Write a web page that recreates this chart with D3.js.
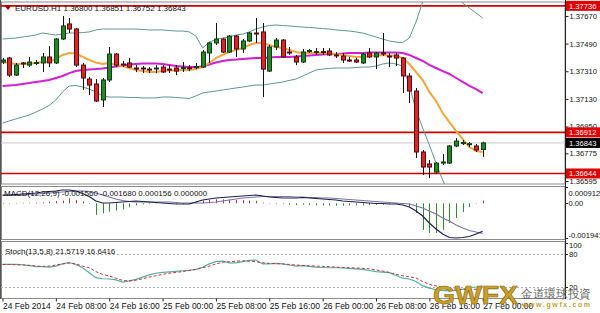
<!DOCTYPE html>
<html><head><meta charset="utf-8">
<script src="https://cdn.jsdelivr.net/npm/d3@7"></script>
<style>
body{margin:0;background:#fff}
svg{display:block}
text{font-family:"Liberation Sans",Arial,sans-serif}
</style>
</head><body>
<svg id="c" width="600" height="313"></svg>
<script>
// ---------- DATA ----------
const startTime = "2014-02-24T00:00:00";
const open = [1.37370,1.37396,1.37285,1.37364,1.37350,1.37364,1.37364,1.37403,1.37364,1.37520,
1.37618,1.37585,1.37350,1.37259,1.37227,1.37123,1.37253,1.37422,1.37357,1.37364,
1.37331,1.37331,1.37324,1.37327,1.37337,1.37324,1.37331,1.37331,1.37333,1.37337,
1.37337,1.37429,1.37494,1.37520,1.37435,1.37539,1.37455,1.37507,1.37559,1.37566,
1.37311,1.37468,1.37513,1.37435,1.37403,1.37370,1.37442,1.37435,1.37438,1.37442,
1.37416,1.37409,1.37383,1.37383,1.37364,1.37429,1.37403,1.37429,1.37409,1.37416,
1.37396,1.37279,1.37181,1.36784,1.36706,1.36653,1.36712,1.36712,1.36823,1.36842,
1.36836,1.36823,1.36800];
const high = [1.37396,1.37403,1.37364,1.37370,1.37403,1.37383,1.37429,1.37474,1.37526,1.37670,
1.37657,1.37592,1.37364,1.37272,1.37259,1.37266,1.37468,1.37429,1.37377,1.37396,
1.37350,1.37344,1.37337,1.37350,1.37350,1.37350,1.37350,1.37370,1.37350,1.37364,
1.37448,1.37500,1.37624,1.37526,1.37546,1.37546,1.37520,1.37566,1.37657,1.37624,
1.37481,1.37526,1.37520,1.37468,1.37416,1.37455,1.37455,1.37461,1.37461,1.37461,
1.37435,1.37429,1.37403,1.37396,1.37429,1.37461,1.37435,1.37559,1.37429,1.37429,
1.37403,1.37298,1.37201,1.36797,1.36732,1.36719,1.36771,1.36829,1.36875,1.36862,
1.36849,1.36836,1.36851];
const low = [1.37357,1.37272,1.37279,1.37331,1.37337,1.37350,1.37305,1.37337,1.37357,1.37513,
1.37559,1.37337,1.37188,1.37155,1.37109,1.37077,1.37240,1.37337,1.37337,1.37331,
1.37305,1.37298,1.37298,1.37298,1.37298,1.37298,1.37285,1.37305,1.37311,1.37324,
1.37331,1.37364,1.37481,1.37429,1.37429,1.37403,1.37429,1.37500,1.37494,1.37142,
1.37305,1.37448,1.37396,1.37416,1.37350,1.37364,1.37429,1.37416,1.37416,1.37409,
1.37396,1.37364,1.37370,1.37364,1.37357,1.37396,1.37324,1.37409,1.37337,1.37344,
1.37168,1.37103,1.36745,1.36634,1.36614,1.36647,1.36699,1.36706,1.36816,1.36829,
1.36816,1.36784,1.36752];
const close = [1.37383,1.37285,1.37350,1.37360,1.37370,1.37367,1.37403,1.37364,1.37520,1.37605,
1.37585,1.37350,1.37266,1.37220,1.37116,1.37253,1.37422,1.37350,1.37350,1.37337,
1.37327,1.37325,1.37322,1.37331,1.37305,1.37318,1.37311,1.37334,1.37330,1.37340,
1.37435,1.37494,1.37520,1.37435,1.37539,1.37455,1.37507,1.37559,1.37556,1.37324,
1.37468,1.37513,1.37403,1.37432,1.37370,1.37435,1.37445,1.37438,1.37435,1.37416,
1.37413,1.37383,1.37380,1.37370,1.37422,1.37403,1.37429,1.37425,1.37406,1.37396,
1.37279,1.37181,1.36784,1.36686,1.36686,1.36712,1.36719,1.36823,1.36855,1.36845,
1.36838,1.36797,1.36843];

const maFast = [1.37370,1.37364,1.37357,1.37357,1.37360,1.37364,1.37370,1.37370,1.37390,1.37416,
1.37429,1.37425,1.37403,1.37383,1.37367,1.37357,1.37364,1.37351,1.37344,1.37331,
1.37318,1.37311,1.37305,1.37305,1.37311,1.37315,1.37315,1.37318,1.37318,1.37324,
1.37337,1.37364,1.37396,1.37416,1.37435,1.37448,1.37461,1.37481,1.37494,1.37494,
1.37481,1.37468,1.37461,1.37448,1.37435,1.37429,1.37429,1.37429,1.37429,1.37425,
1.37422,1.37416,1.37409,1.37403,1.37403,1.37409,1.37412,1.37416,1.37412,1.37409,
1.37396,1.37357,1.37305,1.37253,1.37175,1.37116,1.37038,1.36979,1.36921,1.36868,
1.36816,1.36790,1.36784];
const maSlow = [1.37214,1.37217,1.37220,1.37227,1.37233,1.37240,1.37246,1.37253,1.37266,1.37279,
1.37298,1.37311,1.37318,1.37321,1.37324,1.37328,1.37334,1.37341,1.37347,1.37354,
1.37357,1.37360,1.37360,1.37360,1.37357,1.37351,1.37344,1.37341,1.37337,1.37337,
1.37341,1.37354,1.37367,1.37377,1.37383,1.37386,1.37390,1.37393,1.37396,1.37396,
1.37399,1.37403,1.37403,1.37403,1.37406,1.37409,1.37412,1.37416,1.37419,1.37422,
1.37422,1.37425,1.37429,1.37429,1.37429,1.37432,1.37432,1.37432,1.37432,1.37432,
1.37429,1.37416,1.37396,1.37377,1.37351,1.37331,1.37311,1.37292,1.37266,1.37240,
1.37214,1.37194,1.37168];
const bbUpper = [1.37520,1.37523,1.37526,1.37533,1.37539,1.37546,1.37559,1.37552,1.37546,1.37552,
1.37559,1.37559,1.37562,1.37566,1.37579,1.37585,1.37585,1.37585,1.37585,1.37585,
1.37585,1.37582,1.37579,1.37579,1.37579,1.37575,1.37572,1.37572,1.37566,1.37539,
1.37461,1.37500,1.37517,1.37526,1.37533,1.37546,1.37552,1.37566,1.37585,1.37598,
1.37608,1.37611,1.37608,1.37605,1.37601,1.37598,1.37595,1.37592,1.37588,1.37585,
1.37579,1.37575,1.37572,1.37566,1.37559,1.37546,1.37533,1.37520,1.37507,1.37500,
1.37497,1.37526,1.37631,1.37761,1.37904,1.38035,1.38100,1.38067,1.37904,1.37754,
1.37722,1.37689,1.37657];
const bbLower = [1.36973,1.36986,1.36999,1.37012,1.37025,1.37044,1.37064,1.37087,1.37123,1.37175,
1.37214,1.37217,1.37207,1.37194,1.37175,1.37149,1.37142,1.37142,1.37142,1.37139,
1.37139,1.37136,1.37136,1.37136,1.37142,1.37142,1.37139,1.37136,1.37132,1.37149,
1.37168,1.37175,1.37181,1.37188,1.37194,1.37201,1.37207,1.37214,1.37220,1.37220,
1.37227,1.37233,1.37240,1.37250,1.37259,1.37279,1.37298,1.37318,1.37324,1.37328,
1.37331,1.37331,1.37331,1.37334,1.37337,1.37337,1.37344,1.37357,1.37364,1.37357,
1.37344,1.37220,1.37057,1.36940,1.36829,1.36712,1.36601,1.36504,1.36438,1.36406,
1.36393,1.36393,1.36406];

const macdMain = [0.000464,0.000464,0.000492,0.000520,0.000548,0.000576,0.000632,0.000660,0.000688,0.000744,
0.000744,0.000688,0.000548,0.000380,0.000129,0.000017,0.000017,0.000045,0.000073,0.000101,
0.000129,0.000101,0.000073,0.000045,0.000017,-0.000011,-0.000039,-0.000039,-0.000039,0.000073,
0.000185,0.000240,0.000296,0.000324,0.000352,0.000380,0.000408,0.000436,0.000464,0.000408,
0.000352,0.000324,0.000296,0.000296,0.000296,0.000324,0.000296,0.000268,0.000240,0.000213,
0.000185,0.000129,0.000101,0.000073,0.000045,0.000017,-0.000011,-0.000011,-0.000039,-0.000039,
-0.000095,-0.000207,-0.000431,-0.000710,-0.001102,-0.001437,-0.001717,-0.001913,-0.001941,-0.001913,
-0.001857,-0.001717,-0.001560];
const macdSignal = [0.000436,0.000436,0.000436,0.000464,0.000492,0.000520,0.000548,0.000576,0.000604,0.000632,
0.000660,0.000688,0.000688,0.000660,0.000576,0.000464,0.000352,0.000240,0.000157,0.000101,
0.000073,0.000073,0.000073,0.000073,0.000073,0.000073,0.000045,0.000017,0.000017,0.000017,
0.000017,0.000045,0.000073,0.000129,0.000185,0.000240,0.000296,0.000324,0.000352,0.000380,
0.000380,0.000380,0.000380,0.000380,0.000352,0.000352,0.000324,0.000324,0.000296,0.000296,
0.000268,0.000240,0.000213,0.000185,0.000157,0.000129,0.000101,0.000073,0.000045,0.000017,
-0.000011,-0.000039,-0.000151,-0.000263,-0.000431,-0.000598,-0.000822,-0.000990,-0.001214,-0.001381,
-0.001521,-0.001605,-0.001680];
const macdHist = [-0.00003,-0.00003,0.00002,0.00003,0.00003,0.00004,0.00005,0.00008,0.00012,0.00015,
0.00028,0.00018,0.00009,-0.00003,-0.00065,-0.00056,-0.00047,-0.00041,-0.00034,-0.00022,
-0.00012,-0.00006,-0.00003,-0.00002,-0.00002,-0.00003,-0.00004,-0.00005,-0.00004,0.00006,
0.00016,0.00020,0.00022,0.00022,0.00021,0.00019,0.00018,0.00016,0.00014,0.00004,
-0.00002,-0.00003,-0.00003,-0.00008,-0.00010,-0.00008,-0.00010,-0.00011,-0.00012,-0.00012,
-0.00013,-0.00013,-0.00012,-0.00012,-0.00011,-0.00010,-0.00009,-0.00008,-0.00005,-0.00004,
-0.00006,-0.00020,-0.00054,-0.00149,-0.00166,-0.00166,-0.00149,-0.00110,-0.00082,-0.00049,
-0.00021,-0.00002,0.000156];

const stochMain = [61,61,61,60.5,59,57,57,56,58,62,
64.5,61,55,46,37,35,34.5,33,29,31,
34,38,42,45,46.5,47.5,48.5,49.5,50.5,52,
56,62,66,67,64,64,66,68.5,69,62,
62,63,62,60,58,59,57.5,56,55.5,55,
55,54.5,54,53,52,50,48,47,46,41,
36,34.5,30,22,18,15,14,13,14,16,
19,20,21.57];
const stochSignal = [61,61,60.5,60,59.5,58,57.5,58,60,62,
63.5,62,58,55,48,43,40,36,32,31,
32.5,35,38,40.5,43,45,46.5,48,50,52,
55,58,62,65,66,67,67.5,67,66,64,
63,62.5,62,61,60,59,58.5,58,57.5,57,
56,55.5,55,54.5,54,53,51,49,46.5,43,
40.5,38.5,36.5,30,25,22,19,17,16,15.5,
15.5,16,16.64];

const priceTicks = [1.37670,1.37490,1.37310,1.37130,1.36950,1.36775,1.36595];
const levelLines = [1.37736,1.36912,1.36644];
const bidPrice = 1.36843;
const macdTicks = [0.000912,0,-0.001941];
const macdTickLabels = ["0.000912","0.00","-0.001941"];
const stochLevels = [80,20];
const stochTicks = [100,80,20];
const timeTickLabels = ["24 Feb 2014","24 Feb 08:00","24 Feb 16:00","25 Feb 00:00","25 Feb 08:00",
"25 Feb 16:00","26 Feb 00:00","26 Feb 08:00","26 Feb 16:00","27 Feb 00:00"];
const titleText = "EURUSD.H1  1.36800 1.36851 1.36752 1.36843";
const macdTitle = "MACD(12,26,9) -0.001560 -0.001680 0.000156 0.000000";
const stochTitle = "Stoch(13,5,8) 21.5719 16.6416";

// ---------- SETUP ----------
const svg = d3.select("#c");
const t0 = new Date(startTime);
const times = open.map((d,i)=>d3.timeHour.offset(t0,i));
const bars = open.map((o,i)=>({t:times[i],o,h:high[i],l:low[i],c:close[i]}));

const AX = 565; // right axis x
const FS = 7.6; // right axis font size
const x = d3.scaleTime().domain([times[0], times[times.length-1]]).range([2.5, 482.7]);
const yP = d3.scaleLinear().domain([1.36582, 1.37774]).range([183, 0]);
const yM = d3.scaleLinear().domain([-0.001941, 0.000912]).range([238, 187]);
const yS = d3.scaleLinear().domain([0, 100]).range([298, 243]);

const defs = svg.append("defs");
defs.append("clipPath").attr("id","cpMain").append("rect").attr("x",1).attr("y",2).attr("width",AX-1).attr("height",182);
defs.append("clipPath").attr("id","cpMacd").append("rect").attr("x",1).attr("y",187).attr("width",AX-1).attr("height",52);
defs.append("clipPath").attr("id","cpSto").append("rect").attr("x",1).attr("y",242).attr("width",AX-1).attr("height",56);

// panel frames
const frames = [[2,184],[186.5,239.5],[241.5,298.5]];
frames.forEach(f=>{
  svg.append("rect").attr("x",1.5).attr("y",f[0]).attr("width",AX-1.5).attr("height",f[1]-f[0])
    .attr("fill","none").attr("stroke","#8a8a8a").attr("stroke-width",1);
});
svg.append("line").attr("x1",0.5).attr("x2",0.5).attr("y1",0).attr("y2",299).attr("stroke","#555");

// ---------- MAIN PANEL ----------
const gM = svg.append("g").attr("clip-path","url(#cpMain)");
gM.append("line").attr("x1",1).attr("x2",AX).attr("y1",yP(bidPrice)).attr("y2",yP(bidPrice))
  .attr("stroke","#c8c8c8").attr("stroke-width",1);
gM.selectAll(".lvl").data(levelLines).join("line")
  .attr("x1",1).attr("x2",AX).attr("y1",d=>yP(d)).attr("y2",d=>yP(d))
  .attr("stroke","#d40000").attr("stroke-width",1.6);

const lineP = arr => d3.line().x((d,i)=>x(times[i])).y(d=>yP(d))(arr);
gM.append("path").attr("d",lineP(bbUpper)).attr("fill","none").attr("stroke","#5f9595").attr("stroke-width",1);
gM.append("path").attr("d",lineP(bbLower)).attr("fill","none").attr("stroke","#5f9595").attr("stroke-width",1);
gM.append("path").attr("d",lineP(maSlow)).attr("fill","none").attr("stroke","#d21ed2").attr("stroke-width",2);
gM.append("path").attr("d",lineP(maFast)).attr("fill","none").attr("stroke","#f2a53a").attr("stroke-width",2);

const bw = 4;
const cg = gM.append("g");
cg.selectAll(".wick").data(bars).join("line")
  .attr("x1",d=>Math.round(x(d.t))+0.5).attr("x2",d=>Math.round(x(d.t))+0.5)
  .attr("y1",d=>yP(d.h)).attr("y2",d=>yP(d.l)).attr("stroke","#111").attr("stroke-width",1);
cg.selectAll(".body").data(bars).join("rect")
  .attr("x",d=>Math.round(x(d.t))-bw/2+0.5)
  .attr("y",d=>yP(Math.max(d.o,d.c)))
  .attr("width",bw)
  .attr("height",d=>Math.max(1,Math.abs(yP(d.o)-yP(d.c))))
  .attr("fill",d=>d.c>=d.o?"#23862b":"#d8262a")
  .attr("stroke",d=>d.c>=d.o?"#0d3d10":"#5a0a0a").attr("stroke-width",1);

svg.append("path").attr("d","M4,5 L12,5 L8,10 Z").attr("fill","#b00000");
svg.append("text").attr("x",15).attr("y",11).attr("font-size",8).attr("fill","#111").text(titleText);

// ---------- MACD PANEL ----------
const gD = svg.append("g").attr("clip-path","url(#cpMacd)");
gD.selectAll(".hist").data(macdHist).join("line")
  .attr("x1",(d,i)=>Math.round(x(times[i]))+0.5).attr("x2",(d,i)=>Math.round(x(times[i]))+0.5)
  .attr("y1",yM(0)).attr("y2",d=>yM(d))
  .attr("stroke",d=>d>=0?"#a33a3a":"#2f8a2f").attr("stroke-width",1);
const lineM = arr => d3.line().x((d,i)=>x(times[i])).y(d=>yM(d))(arr);
gD.append("path").attr("d",lineM(macdSignal)).attr("fill","none").attr("stroke","#7a74aa").attr("stroke-width",1.2);
gD.append("path").attr("d",lineM(macdMain)).attr("fill","none").attr("stroke","#1e1e50").attr("stroke-width",1.2);
svg.append("text").attr("x",4).attr("y",196).attr("font-size",8).attr("fill","#111").text(macdTitle);

// ---------- STOCH PANEL ----------
const gS = svg.append("g").attr("clip-path","url(#cpSto)");
gS.selectAll(".sl").data(stochLevels).join("line")
  .attr("x1",1).attr("x2",AX).attr("y1",d=>Math.round(yS(d))+0.5).attr("y2",d=>Math.round(yS(d))+0.5)
  .attr("stroke","#b0b0b0").attr("stroke-dasharray","2,2").attr("stroke-width",1);
const lineS = arr => d3.line().x((d,i)=>x(times[i])).y(d=>yS(d))(arr);
gS.append("path").attr("d",lineS(stochMain)).attr("fill","none").attr("stroke","#4fb0a6").attr("stroke-width",1.2);
gS.append("path").attr("d",lineS(stochSignal)).attr("fill","none").attr("stroke","#c83232").attr("stroke-width",1).attr("stroke-dasharray","3,2");
svg.append("text").attr("x",5).attr("y",254).attr("font-size",8).attr("fill","#111").text(stochTitle);

// ---------- AXES ----------
svg.append("line").attr("x1",AX+0.5).attr("x2",AX+0.5).attr("y1",0).attr("y2",299).attr("stroke","#222");

const axP = d3.axisRight(yP).tickValues(priceTicks).tickFormat(d3.format(".5f")).tickSize(3);
const gAP = svg.append("g").attr("transform",`translate(${AX+0.5},0)`).call(axP);
gAP.select(".domain").remove();
gAP.selectAll("text").attr("font-size",FS).attr("fill","#111").attr("x",4).attr("font-family","Liberation Sans, Arial");
gAP.selectAll(".tick line").attr("stroke","#222");

const boxes = levelLines.map(v=>({v,bg:"#e00000"})).concat([{v:bidPrice,bg:"#000"}]);
const gB = svg.append("g");
boxes.forEach(b=>{
  const yy = yP(b.v);
  gB.append("rect").attr("x",AX+1).attr("y",yy-5).attr("width",600-AX-1).attr("height",10).attr("fill",b.bg);
  gB.append("text").attr("x",AX+4).attr("y",yy+3).attr("font-size",FS).attr("fill","#fff").text(d3.format(".5f")(b.v));
});

const gAM = svg.append("g");
macdTicks.forEach((v,i)=>{
  const yy = yM(v);
  const off = i===0 ? 8.5 : (i===macdTicks.length-1 ? -0.5 : 3);
  gAM.append("line").attr("x1",AX).attr("x2",AX+3).attr("y1",Math.round(yy)+0.5).attr("y2",Math.round(yy)+0.5).attr("stroke","#222");
  gAM.append("text").attr("x",AX+3.5).attr("y",yy+off).attr("font-size",FS).attr("fill","#111").text(macdTickLabels[i]);
});
const gAS = svg.append("g");
stochTicks.forEach((v,i)=>{
  const yy = yS(v);
  const off = v===100 ? 5 : 3;
  gAS.append("line").attr("x1",AX).attr("x2",AX+3).attr("y1",Math.round(yy)+0.5).attr("y2",Math.round(yy)+0.5).attr("stroke","#222");
  gAS.append("text").attr("x",AX+4).attr("y",yy+off).attr("font-size",FS).attr("fill","#111").text(v);
});

const tickTimes = times.filter((t,i)=>i%8===0);
const axT = d3.axisBottom(x).tickValues(tickTimes).tickFormat((d,i)=>timeTickLabels[i]).tickSize(3);
const gAT = svg.append("g").attr("transform","translate(0,298.5)").call(axT);
gAT.select(".domain").remove();
gAT.selectAll(".tick line").attr("stroke","#222");
gAT.selectAll("text").attr("font-size",8.5).attr("fill","#111").attr("text-anchor","start")
  .attr("x",0).attr("y",4).attr("dy","0.71em").attr("font-family","Liberation Sans, Arial");

// ---------- WATERMARK ----------
const wm = svg.append("g");
wm.append("text").attr("x",433).attr("y",304).attr("font-size",25).attr("font-weight",900)
  .attr("font-family","DejaVu Sans, sans-serif").attr("fill","#c9a02a")
  .attr("stroke","#8a6a10").attr("stroke-width",0.6)
  .attr("textLength",85).attr("lengthAdjust","spacingAndGlyphs").text("GWFX");
wm.append("text").attr("x",521).attr("y",298).attr("font-size",12).attr("fill","#666")
  .attr("font-family","Noto Sans CJK TC, Noto Sans CJK SC, sans-serif")
  .attr("textLength",70).attr("lengthAdjust","spacingAndGlyphs").text("金道環球投資");
wm.append("text").attr("x",522).attr("y",307).attr("font-size",7).attr("font-weight","bold").attr("fill","#c9a02a")
  .attr("textLength",68).attr("lengthAdjust","spacing").text("www.gwfx.com");
</script>
</body></html>
